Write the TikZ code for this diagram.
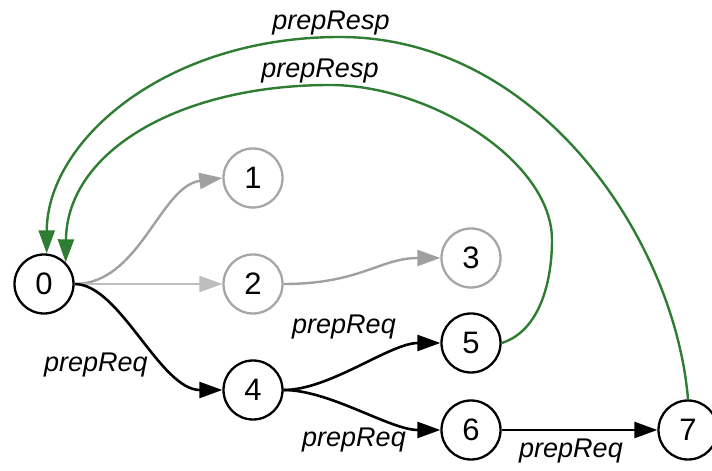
\documentclass[tikz,border=0pt]{standalone}
\usepackage{fontspec}
\setmainfont{Liberation Sans}
\usetikzlibrary{arrows.meta}
\definecolor{grn}{HTML}{2E7D32}
\definecolor{gedge}{HTML}{A0A0A0}
\definecolor{gedgelight}{HTML}{BDBDBD}
\definecolor{gcirc}{HTML}{A6A6A6}
\begin{document}
\begin{tikzpicture}[x=1pt,y=1pt,
  st/.style={circle, draw=black, line width=2.3pt, minimum size=59pt, inner sep=0pt,
    font=\fontsize{31}{33}\selectfont},
  gst/.style={st, draw=gcirc},
  tip/.style={-{Triangle[length=23pt,width=16pt]}},
  blk/.style={tip, line width=2.6pt, draw=black},
  gry/.style={tip, line width=2.4pt, draw=gedge},
  gryl/.style={tip, line width=2.4pt, draw=gedgelight},
  grnl/.style={tip, line width=2.4pt, draw=grn},
  lab/.style={font=\fontsize{27}{30}\selectfont\itshape, inner sep=0pt}
]
\useasboundingbox (0,0) rectangle (712,471);
\node[st]  (n0) at (44,187) {0};
\node[gst] (n1) at (253,293) {1};
\node[gst] (n2) at (253,187) {2};
\node[gst] (n3) at (471,213) {3};
\node[st]  (n4) at (253,81) {4};
\node[st]  (n5) at (471,128) {5};
\node[st]  (n6) at (471,41) {6};
\node[st]  (n7) at (688,41) {7};

\draw[gry] (n0.east) .. controls (140,187) and (160,285) .. (n1.west);
\draw[gryl] (n0.east) -- (n2.west);
\draw[gry] (n2.east) .. controls (360,187) and (380,213) .. (n3.west);
\draw[blk] (n0.east) .. controls (120,187) and (160,81) .. (n4.west);
\draw[blk] (n4.east) .. controls (330,81) and (390,128) .. (n5.west);
\draw[blk] (n4.east) .. controls (330,81) and (390,41) .. (n6.west);
\draw[blk] (n6) -- (n7);

\coordinate (top1) at (340,434);
\coordinate (top2) at (330,386);
\coordinate (rs2) at (552,231);
\draw[grnl] (n7.north) .. controls (675,230) and (540,434) .. (top1)
  .. controls (165,434) and (47,330) .. (n0.85);
\draw[grnl] (n5.east) .. controls (540,140) and (552,190) .. (rs2)
  .. controls (552,310) and (430,386) .. (top2)
  .. controls (180,386) and (67,320) .. (n0.45);

\node[lab] (l1) at (331,448) {prepResp};
\node[lab] (l2) at (320,400) {prepResp};
\node[lab] (l3) at (96,106) {prepReq};
\node[lab] (l4) at (344,144) {prepReq};
\node[lab] (l5) at (354,31) {prepReq};
\node[lab] (l6) at (571,20) {prepReq};
\end{tikzpicture}
\end{document}
